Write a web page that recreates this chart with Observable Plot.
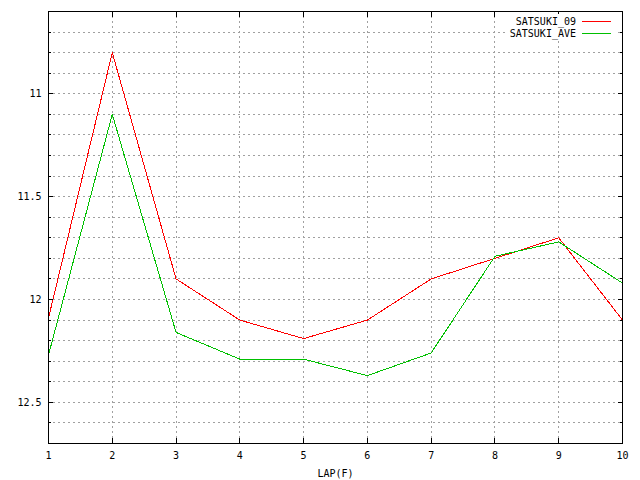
<!DOCTYPE html>
<html><head><meta charset="utf-8">
<script src="https://cdn.jsdelivr.net/npm/d3@7"></script>
<script src="https://cdn.jsdelivr.net/npm/@observablehq/plot@0.6"></script>
<style>
body{margin:0;background:#fff;}
#wrap{position:relative;width:640px;height:480px;font-family:"DejaVu Sans Mono",monospace;font-size:10px;color:#000;}
#legend{position:absolute;left:0;top:0;}
</style></head><body><div id="wrap"></div>
<script>
const laps = [1, 2, 3, 4, 5, 6, 7, 8, 9, 10];
const satsuki09 = [12.09, 10.8, 11.9, 12.1, 12.19, 12.1, 11.9, 11.8, 11.7, 12.1];
const satsukiAve = [12.27, 11.1, 12.16, 12.29, 12.29, 12.37, 12.26, 11.79, 11.72, 11.92];
const seriesNames = ["SATSUKI_09", "SATSUKI_AVE"];
const seriesColors = ["#ff0000", "#00c000"];
const xTicks = [1, 2, 3, 4, 5, 6, 7, 8, 9, 10];
const xGrid = [2, 3, 4, 5, 6, 7, 8, 9];
const yMajorTicks = [11, 11.5, 12, 12.5];
const yMinorTicks = [10.7, 10.8, 10.9, 11, 11.1, 11.2, 11.3, 11.4, 11.5, 11.6, 11.7, 11.8, 11.9, 12, 12.1, 12.2, 12.3, 12.4, 12.5, 12.6];
const yDomain = [12.7, 10.6];
const xLabel = "LAP(F)";

const rows = [];
laps.forEach((lap, i) => {
  rows.push({lap, time: satsuki09[i], series: seriesNames[0]});
});
laps.forEach((lap, i) => {
  rows.push({lap, time: satsukiAve[i], series: seriesNames[1]});
});

const gridStyle = {stroke: "#a0a0a0", strokeOpacity: 1, strokeDasharray: "2,3", shapeRendering: "crispEdges"};
const blank = () => "";

const chart = Plot.plot({
  width: 640,
  height: 480,
  marginLeft: 48,
  marginRight: 18,
  marginTop: 11,
  marginBottom: 37,
  style: {fontFamily: "DejaVu Sans Mono, monospace", fontSize: "10px", background: "white", color: "black"},
  x: {domain: [1, 10]},
  y: {domain: yDomain},
  color: {domain: seriesNames, range: seriesColors},
  marks: [
    Plot.gridY(yMinorTicks, gridStyle),
    Plot.gridX(xGrid, gridStyle),
    Plot.line(rows, {x: "lap", y: "time", z: "series", stroke: "series", strokeWidth: 1, shapeRendering: "crispEdges"}),
    Plot.frame({stroke: "black", shapeRendering: "crispEdges"}),
    Plot.axisY(yMajorTicks, {anchor: "left", tickSize: 0, tickPadding: 7, tickFormat: d => String(d), label: null}),
    Plot.axisY(yMajorTicks, {anchor: "left", tickSize: 5, dx: 5, tickFormat: blank, label: null, shapeRendering: "crispEdges"}),
    Plot.axisY(yMinorTicks, {anchor: "left", tickSize: 3, dx: 3, tickFormat: blank, label: null, shapeRendering: "crispEdges"}),
    Plot.axisY(yMajorTicks, {anchor: "right", tickSize: 5, dx: -5, tickFormat: blank, label: null, shapeRendering: "crispEdges"}),
    Plot.axisY(yMinorTicks, {anchor: "right", tickSize: 3, dx: -3, tickFormat: blank, label: null, shapeRendering: "crispEdges"}),
    Plot.axisX(xTicks, {anchor: "bottom", tickSize: 0, tickPadding: 8, tickFormat: d => String(d), label: null}),
    Plot.axisX(xTicks, {anchor: "bottom", tickSize: 5, dy: -5, tickFormat: blank, label: null, shapeRendering: "crispEdges"}),
    Plot.axisX(xTicks, {anchor: "top", tickSize: 5, dy: 5, tickFormat: blank, label: null, shapeRendering: "crispEdges"}),
    Plot.text([xLabel], {frameAnchor: "bottom", dy: 33, text: d => d, fill: "black"})
  ]
});

const wrap = document.getElementById("wrap");
wrap.appendChild(chart);

// legend overlay (inside top-right of the plot, opaque like the original)
const ns = "http://www.w3.org/2000/svg";
const lg = document.createElementNS(ns, "svg");
lg.setAttribute("id", "legend");
lg.setAttribute("width", 640);
lg.setAttribute("height", 60);
const bg = document.createElementNS(ns, "rect");
bg.setAttribute("x", 506); bg.setAttribute("y", 14);
bg.setAttribute("width", 109); bg.setAttribute("height", 25);
bg.setAttribute("fill", "white");
lg.appendChild(bg);
seriesNames.forEach((name, i) => {
  const yc = 21 + i * 12;
  const t = document.createElementNS(ns, "text");
  t.setAttribute("x", 576);
  t.setAttribute("y", yc);
  t.setAttribute("dy", "0.35em");
  t.setAttribute("text-anchor", "end");
  t.setAttribute("font-family", "DejaVu Sans Mono, monospace");
  t.setAttribute("font-size", "10");
  t.setAttribute("fill", "black");
  t.textContent = name;
  lg.appendChild(t);
  const l = document.createElementNS(ns, "line");
  l.setAttribute("x1", 582); l.setAttribute("x2", 611);
  l.setAttribute("y1", yc + 0.5); l.setAttribute("y2", yc + 0.5);
  l.setAttribute("stroke", seriesColors[i]);
  l.setAttribute("stroke-width", 1);
  l.setAttribute("shape-rendering", "crispEdges");
  lg.appendChild(l);
});
wrap.appendChild(lg);
</script>
</body></html>
